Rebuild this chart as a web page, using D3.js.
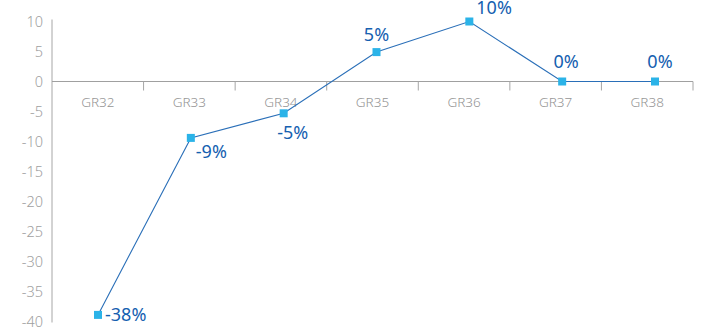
<!DOCTYPE html>
<html><head><meta charset="utf-8">
<script src="https://cdn.jsdelivr.net/npm/d3@7"></script>
<style>
html,body{margin:0;padding:0;background:#fff;}
svg{display:block;font-family:"Noto Sans","Open Sans",sans-serif;}
</style></head>
<body><svg id="chart" width="703" height="329"></svg>
<script>
const categories = ["GR32","GR33","GR34","GR35","GR36","GR37","GR38"];
const values = [-38.9, -9.4, -5.3, 4.9, 10, 0, 0];
const pointLabels = ["-38%","-9%","-5%","5%","10%","0%","0%"];
const yTicks = [10,5,0,-5,-10,-15,-20,-25,-30,-35,-40];

(function(){
const svg = d3.select("#chart");
const mLeft = 52, mRight = 693, mTop = 21.5, mBottom = 321.5;

const y = d3.scaleLinear().domain([10,-40]).range([mTop,mBottom]);
const xBand = d3.scaleBand().domain(categories).range([mLeft,mRight]);
const xPt = d3.scalePoint().domain(categories).range([98,655]);

svg.append("line").attr("x1",mLeft).attr("x2",mLeft).attr("y1",mTop-2).attr("y2",mBottom+1)
  .attr("stroke","#a6a6a6").attr("stroke-width",1);
svg.append("g").selectAll("text").data(yTicks).join("text")
  .attr("x",43).attr("y",d=>y(d)).attr("dy","0.35em").attr("text-anchor","end")
  .attr("font-size",14.5).attr("font-weight",300).attr("fill","#a0a0a0").text(d=>d);

const x0 = y(0);
svg.append("line").attr("x1",mLeft).attr("x2",mRight).attr("y1",x0).attr("y2",x0)
  .attr("stroke","#a0a0a0").attr("stroke-width",1);
const bounds = categories.slice(1).map(c=>xBand(c)).concat([mRight]);
svg.append("g").selectAll("line").data(bounds).join("line")
  .attr("x1",d=>d).attr("x2",d=>d).attr("y1",x0).attr("y2",x0+9)
  .attr("stroke","#a6a6a6").attr("stroke-width",1);
svg.append("g").selectAll("text").data(categories).join("text")
  .attr("x",d=>xBand(d)+xBand.bandwidth()/2).attr("y",x0+21).attr("dy","0.35em")
  .attr("text-anchor","middle").attr("font-size",13.5).attr("font-weight",300)
  .attr("fill","#959595").text(d=>d);

const data = categories.map((c,i)=>({c, v:values[i], l:pointLabels[i], i}));

svg.append("path").datum(data)
  .attr("d", d3.line().x(d=>xPt(d.c)).y(d=>y(d.v)))
  .attr("fill","none").attr("stroke","#2a6fb8").attr("stroke-width",1.1);

svg.append("g").selectAll("rect").data(data).join("rect")
  .attr("x",d=>xPt(d.c)-4).attr("y",d=>y(d.v)-4).attr("width",8).attr("height",8)
  .attr("fill","#2bb3e8");

const place = [[7,0,"start"],[5,14,"start"],[9,19,"middle"],[0,-17,"middle"],[7,-14,"start"],[4,-20,"middle"],[5,-20,"middle"]];
svg.append("g").selectAll("text").data(data).join("text")
  .attr("x",d=>xPt(d.c)+place[d.i][0]).attr("y",d=>y(d.v)+place[d.i][1]).attr("dy","0.35em")
  .attr("text-anchor",d=>place[d.i][2]).attr("font-size",18).attr("fill","#1560b0")
  .text(d=>d.l);
})();
</script></body></html>
